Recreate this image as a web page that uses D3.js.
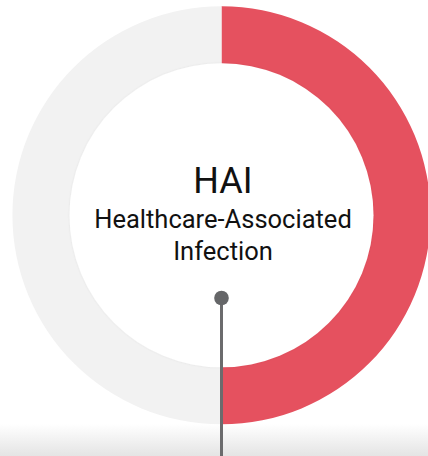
<!DOCTYPE html>
<html>
<head>
<meta charset="utf-8">
<title>HAI</title>
<script src="https://cdn.jsdelivr.net/npm/d3@7"></script>
<style>
  body { margin: 0; background: #fff; overflow: hidden; }
  svg { display: block; }
</style>
</head>
<body>
<div id="chart"></div>
<script>
// donut data: share of the ring that is highlighted vs the rest
var segments = ["highlight", "rest"];
var values = [50, 50];
var colors = ["#e5515f", "#f2f2f2"];
var titleLines = ["HAI", "Healthcare-Associated", "Infection"];

var w = 428, h = 456;
var cx = 221.5, cy = 215.3;
var outerR = 209, innerR = 152;

var svg = d3.select("#chart").append("svg")
    .attr("width", w).attr("height", h);

var defs = svg.append("defs");

// soft shadow at the bottom of the card
var grad = defs.append("linearGradient").attr("id", "bottomShade")
    .attr("x1", 0).attr("y1", 0).attr("x2", 0).attr("y2", 1);
grad.append("stop").attr("offset", "0%").attr("stop-color", "#ffffff");
grad.append("stop").attr("offset", "100%").attr("stop-color", "#e4e4e4");

var shadow = defs.append("filter").attr("id", "innerShadow")
    .attr("x", "-10%").attr("y", "-10%").attr("width", "120%").attr("height", "120%");
shadow.append("feDropShadow")
    .attr("dx", 0).attr("dy", 0).attr("stdDeviation", 1)
    .attr("flood-color", "#000").attr("flood-opacity", 0.07);

svg.append("rect")
    .attr("x", 0).attr("y", 424).attr("width", w).attr("height", h - 424)
    .attr("fill", "url(#bottomShade)");

var g = svg.append("g").attr("transform", "translate(" + cx + "," + cy + ")");

var pie = d3.pie().sort(null).value(function(d) { return d; });
var arc = d3.arc().innerRadius(innerR - 2).outerRadius(outerR);

g.selectAll("path.seg")
    .data(pie(values))
    .enter().append("path")
    .attr("class", "seg")
    .attr("d", arc)
    .attr("fill", function(d, i) { return colors[i]; });

// white centre disc with a faint edge
g.append("circle")
    .attr("r", innerR)
    .attr("fill", "#fff")
    .attr("filter", "url(#innerShadow)");

// centre text
g.append("text")
    .attr("x", 1.5).attr("y", -22)
    .attr("text-anchor", "middle")
    .attr("font-family", "Roboto, sans-serif")
    .attr("font-size", "36px")
    .attr("fill", "#111")
    .text(titleLines[0]);

g.selectAll("text.sub")
    .data(titleLines.slice(1))
    .enter().append("text")
    .attr("class", "sub")
    .attr("x", 1.5)
    .attr("y", function(d, i) { return 13 + i * 32; })
    .attr("text-anchor", "middle")
    .attr("font-family", "Roboto, sans-serif")
    .attr("font-size", "25.5px")
    .attr("fill", "#111")
    .text(function(d) { return d; });

// pointer stem
svg.append("line")
    .attr("x1", cx).attr("y1", 298)
    .attr("x2", cx).attr("y2", h)
    .attr("stroke", "#6b6b6d")
    .attr("stroke-width", 3);

svg.append("circle")
    .attr("cx", cx).attr("cy", 298)
    .attr("r", 7.3)
    .attr("fill", "#656668");
</script>
</body>
</html>
